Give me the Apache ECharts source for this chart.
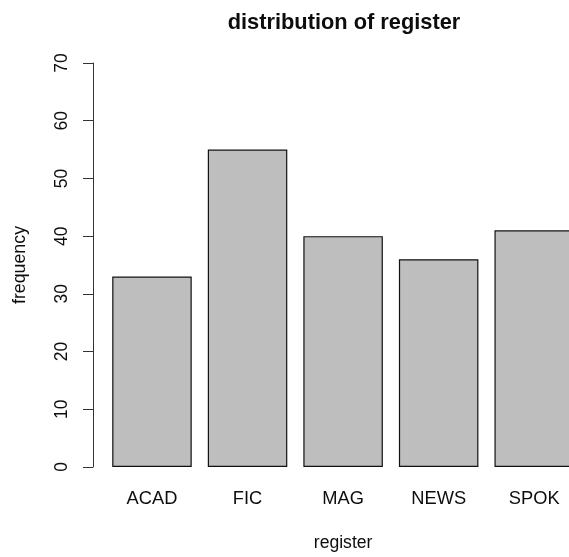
<!DOCTYPE html>
<html>
<head>
<meta charset="utf-8">
<script src="https://cdn.jsdelivr.net/npm/echarts@6/dist/echarts.min.js"></script>
<style>
  html, body { margin: 0; padding: 0; background: #fff; overflow: hidden; }
  /* the plot region runs a little past the right edge of the window */
  #chart { width: 582px; height: 557px; }
</style>
</head>
<body>
<div id="chart"></div>
<script>
// Register categories and how often each occurs
const categories = ['ACAD', 'FIC', 'MAG', 'NEWS', 'SPOK'];
const frequency = [33, 55, 40, 36, 41];
const yTicks = [0, 10, 20, 30, 40, 50, 60, 70];

const FONT = '"Liberation Sans", Arial, sans-serif';
const INK = '#0d0d0d';

const chart = echarts.init(document.getElementById('chart'), null, { renderer: 'canvas' });

chart.setOption({
  animation: false,
  backgroundColor: '#ffffff',
  title: {
    text: 'distribution of register',
    left: 339,
    top: 7,
    textAlign: 'center',
    textStyle: { fontFamily: FONT, fontWeight: 'bold', fontSize: 21.8, color: INK }
  },
  grid: { left: 104.2, right: 0, top: 63, bottom: 90, containLabel: false },
  xAxis: {
    type: 'category',
    data: categories,
    boundaryGap: true,
    name: 'register',
    nameLocation: 'middle',
    nameGap: 67,
    nameTextStyle: { fontFamily: FONT, fontSize: 17.6, color: INK },
    axisLine: { show: false },
    axisTick: { show: false },
    axisLabel: { fontFamily: FONT, fontSize: 18.3, color: INK, margin: 23 },
    splitLine: { show: false }
  },
  yAxis: {
    type: 'value',
    min: yTicks[0],
    max: yTicks[yTicks.length - 1],
    interval: 10,
    offset: 11.2,
    name: 'frequency',
    nameLocation: 'middle',
    nameGap: 64,
    nameTextStyle: { fontFamily: FONT, fontSize: 17.8, color: INK },
    axisLine: { show: true, lineStyle: { color: '#333', width: 1 } },
    axisTick: { show: true, length: 10, lineStyle: { color: '#333', width: 1 } },
    axisLabel: {
      fontFamily: FONT, fontSize: 17.5, color: INK,
      rotate: 90, margin: 22
    },
    splitLine: { show: false }
  },
  series: [{
    type: 'bar',
    data: frequency,
    barWidth: 79.5,
    itemStyle: { color: '#bebebe', borderColor: '#111', borderWidth: 1.2 }
  }]
});
</script>
</body>
</html>
